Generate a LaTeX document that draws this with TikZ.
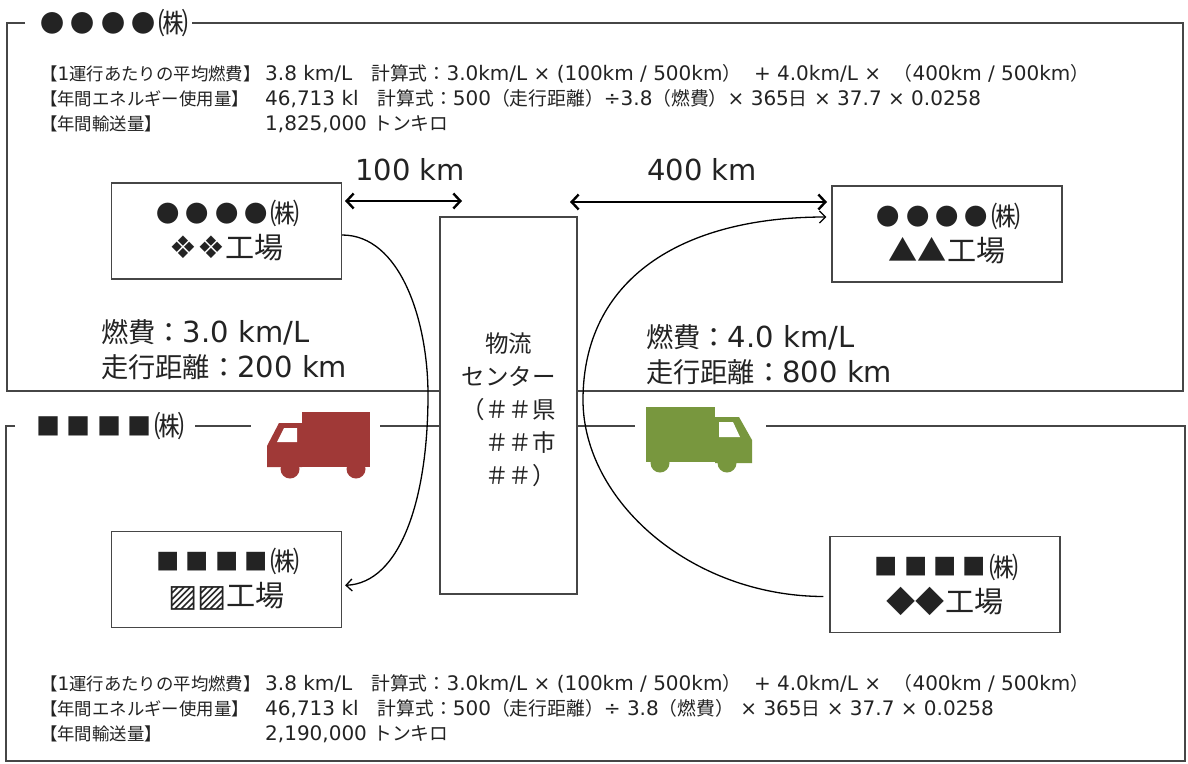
\documentclass[tikz,border=0pt]{standalone}
\usepackage{graphicx}
\usepackage{fontspec}
\setmainfont{DejaVu Sans}
\newfontfamily\latinfont{DejaVu Sans}
\newfontfamily\cjkfont{Noto Sans CJK JP}[Scale=0.94]
\usetikzlibrary{matrix,positioning,arrows.meta}

% CJK characters switch to the CJK family
\XeTeXinterchartokenstate=1
\newXeTeXintercharclass\cjkclass
\newcount\cjkcode
\cjkcode="3000
\loop\XeTeXcharclass\cjkcode=\cjkclass
\ifnum\cjkcode<"9FFF\advance\cjkcode by 1\repeat
\cjkcode="FF00
\loop\XeTeXcharclass\cjkcode=\cjkclass
\ifnum\cjkcode<"FFEF\advance\cjkcode by 1\repeat
\cjkcode="25A0
\loop\XeTeXcharclass\cjkcode=\cjkclass
\ifnum\cjkcode<"25FF\advance\cjkcode by 1\repeat
\XeTeXcharclass"25A8=0
\XeTeXinterchartoks 0 \cjkclass = {\cjkfont}
\XeTeXinterchartoks 4095 \cjkclass = {\cjkfont}
\XeTeXinterchartoks \cjkclass 0 = {\latinfont}
\XeTeXinterchartoks \cjkclass 4095 = {\latinfont}

% small company marks
\newcommand\mk[1]{\makebox[0.95em]{\raisebox{0.07em}{\scalebox{0.8}{#1}}}}

\definecolor{ink}{RGB}{35,35,35}
\definecolor{rule}{RGB}{70,70,70}
\definecolor{truckred}{RGB}{160,57,55}
\definecolor{truckgreen}{RGB}{120,151,62}

\begin{document}
\begin{tikzpicture}[x=1pt,y=-1pt,every node/.style={text=ink},
	frame/.style={draw=rule,line width=1.3pt},
	fact/.style={rectangle,draw=rule,line width=1.3pt,fill=white,inner sep=0pt,minimum width=230pt,minimum height=96pt,align=center,font=\fontsize{31}{34}\selectfont},
	hub/.style={rectangle,draw=rule,line width=1.3pt,fill=white,inner sep=0pt,minimum width=137pt,minimum height=377pt},
	title/.style={anchor=west,inner sep=0pt,font=\fontsize{32}{34}\selectfont},
	big/.style={inner sep=0pt,font=\fontsize{29}{35}\selectfont},
	info/.style={matrix of nodes,anchor=north west,inner sep=0pt,row sep=5pt,nodes={anchor=west,inner sep=0pt,text height=15pt,text depth=5pt,font=\fontsize{20}{24}\selectfont},column 1/.style={nodes={text width=225pt,font=\fontsize{18.5}{24}\selectfont}}},
	dist/.style={{Straight Barb[length=7pt,width=15pt]}-{Straight Barb[length=7pt,width=15pt]},line width=2.4pt},
	route/.style={-{Straight Barb[length=6pt,width=12pt]},line width=1.3pt}]
	
	\fill[white] (0,0) rectangle (1188,763);
	
	\node[title] (ttla) at (37,23) {\mk{●}\mk{●}\mk{●}\mk{●}㈱};
	\node[title] (ttlb) at (33,426) {\mk{■}\mk{■}\mk{■}\mk{■}㈱};
	\draw[frame] ([xshift=-12pt]ttla.west) -- (7,23) |- (1183,391) |- ([xshift=3pt]ttla.east);
	\draw[frame] ([xshift=-18pt]ttlb.west) -- (6,426) |- (1185,761) |- (766,426);
	\draw[frame] ([xshift=10pt]ttlb.east) -- (251,426);
	\draw[frame] (380,426) -- (635,426);
	
	\matrix (infoa) at (40,65) [info]
	{
		【1運行あたりの平均燃費】 & 3.8 km/L\ \ \ 計算式：3.0km/L × (100km / 500km）\ \ + 4.0km/L × \ （400km / 500km） \\
		【年間エネルギー使用量】 & 46,713 kl\ \ \ 計算式：500（走行距離）÷3.8（燃費）× 365日 × 37.7 × 0.0258 \\
		【年間輸送量】 & 1,825,000 トンキロ \\};
	\matrix (infob) at (40,675) [info]
	{
		【1運行あたりの平均燃費】 & 3.8 km/L\ \ \ 計算式：3.0km/L × (100km / 500km）\ \ + 4.0km/L × \ （400km / 500km） \\
		【年間エネルギー使用量】 & 46,713 kl\ \ \ 計算式：500（走行距離）÷ 3.8（燃費） × 365日 × 37.7 × 0.0258 \\
		【年間輸送量】 & 2,190,000 トンキロ \\};
	
	\node[hub] (hub) at (508.5,405.5) {};
	\node[align=center,inner sep=0pt,font=\fontsize{25}{33}\selectfont] (hubtxt) at (508.5,410) {物流\\センター\\（＃＃県\\\phantom{（}＃＃市\\\phantom{（}＃＃）};
	\node[fact] (fa) at (226.5,231) {\mk{●}\mk{●}\mk{●}\mk{●}㈱\\❖❖工場};
	\node[fact] (fb) at (947,234) {\mk{●}\mk{●}\mk{●}\mk{●}㈱\\▲▲工場};
	\node[fact,below=251pt of fa] (fc) {\mk{■}\mk{■}\mk{■}\mk{■}㈱\\▨▨工場};
	\node[fact] (fd) at (945,584.5) {\mk{■}\mk{■}\mk{■}\mk{■}㈱\\◆◆工場};
	
	\node[big] (km100) at (410,170) {100 km};
	\node[big] (km400) at (702,170) {400 km};
	\node[big,align=left,anchor=west] (fuela) at (101,350) {燃費：3.0 km/L\\走行距離：200 km};
	\node[big,align=left,anchor=west] (fuelb) at (646,355) {燃費：4.0 km/L\\走行距離：800 km};
	
	\coordinate (k1a) at (345,201);
	\coordinate (k1b) at (462,201);
	\coordinate (k2a) at (570,202);
	\coordinate (k2b) at (827,202);
	\draw[dist] (k1a) -- (k1b);
	\draw[dist] (k2a) -- (k2b);
	
	\draw[route] ([yshift=-4pt]fa.east) .. controls (400,235) and (428,320) .. (428,395) .. controls (428,500) and (400,583) .. ([xshift=3pt,yshift=-6pt]fc.east);
	\draw[route] ([xshift=-6pt,yshift=-12pt]fd.west) .. controls (690,596) and (583,500) .. (583,400) .. controls (583,280) and (680,217) .. ([xshift=-5pt,yshift=17pt]fb.west);
	
	% trucks
	\fill[truckred] (302,412) rectangle (370,467);
	\fill[truckred] (302,423) -- (279,423) -- (267,446) -- (267,467) -- (302,467) -- cycle;
	\fill[white] (284,428) -- (297,428) -- (297,442) -- (277,442) -- cycle;
	\fill[truckred] (290,469) circle (9.5) (356,469) circle (9.5);
	\fill[truckgreen] (646,407) rectangle (715,462);
	\fill[truckgreen] (715,417) -- (739,417) -- (752,440) -- (752,463) -- (715,463) -- cycle;
	\fill[white] (719,422) -- (733,422) -- (740,437) -- (719,437) -- cycle;
	\fill[truckgreen] (660,463) circle (9.5) (727,463) circle (9.5);
	
\end{tikzpicture}
\end{document}
